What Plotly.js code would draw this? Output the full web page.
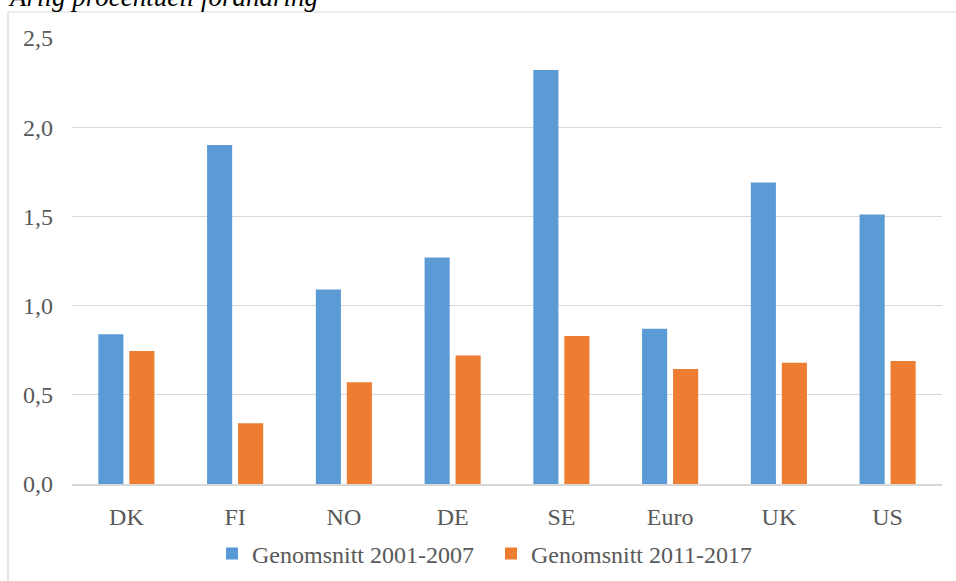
<!DOCTYPE html>
<html>
<head>
<meta charset="utf-8">
<script src="https://cdn.plot.ly/plotly-3.0.1.min.js"></script>
<style>
html,body{margin:0;padding:0;background:#fff;}
#chart{width:956px;height:581px;}
</style>
</head>
<body>
<div id="chart"></div>
<script>
var categories = ["DK", "FI", "NO", "DE", "SE", "Euro", "UK", "US"];
var series1Name = "Genomsnitt 2001-2007";
var series2Name = "Genomsnitt 2011-2017";
var series1 = [0.84, 1.90, 1.09, 1.27, 2.32, 0.87, 1.69, 1.51];
var series2 = [0.745, 0.34, 0.57, 0.72, 0.83, 0.645, 0.68, 0.69];
var yTicks = [0, 0.5, 1.0, 1.5, 2.0, 2.5];
var chartTitle = "Årlig procentuell förändring";

var fontFam = "'Liberation Serif', 'Times New Roman', serif";
var txtCol = "#595959";

var traces = [
  {type: "bar", name: series1Name, x: categories, y: series1,
   marker: {color: "#5b9bd5"}, hoverinfo: "x+y"},
  {type: "bar", name: series2Name, x: categories, y: series2,
   marker: {color: "#ed7d31"}, hoverinfo: "x+y"}
];

var layout = {
  width: 956, height: 581,
  margin: {l: 72, r: 14, t: 38, b: 97},
  paper_bgcolor: "#ffffff",
  plot_bgcolor: "#ffffff",
  separators: ",.",
  font: {family: fontFam, color: txtCol, size: 24},
  barmode: "group",
  bargap: 0.43,
  bargroupgap: 0.19,
  showlegend: true,
  legend: {orientation: "h", xref: "container", yref: "container",
           x: 491 / 956, xanchor: "center", y: 1 - 554 / 581, yanchor: "middle",
           font: {family: fontFam, size: 24, color: txtCol}, itemwidth: 30, entrywidth: 234,
           traceorder: "normal", tracegroupgap: 0},
  xaxis: {
    type: "category",
    showgrid: false, zeroline: false,
    showline: true, linecolor: "#d9d9d9", linewidth: 1.5,
    ticks: "", ticklabelstandoff: 11, automargin: false,
    tickfont: {family: fontFam, size: 24, color: txtCol},
    fixedrange: true
  },
  yaxis: {
    range: [0, 2.5],
    tickvals: yTicks,
    tickformat: ".1f",
    showgrid: true, gridcolor: "#d9d9d9", gridwidth: 1.3,
    zeroline: false, showline: false,
    ticks: "", ticklabelstandoff: 18, automargin: false,
    tickfont: {family: fontFam, size: 24, color: txtCol},
    fixedrange: true
  },
  annotations: [
    {text: "<i>" + chartTitle + "</i>", xref: "paper", yref: "paper",
     x: (6 - 72) / 870, y: (484 - 14) / 446, xanchor: "left", yanchor: "bottom",
     showarrow: false, font: {family: fontFam, size: 27, color: "#000000"}}
  ],
  shapes: [
    {type: "rect", xref: "paper", yref: "paper",
     x0: (8 - 72) / 870, x1: (970 - 72) / 870,
     y0: (484 - 600) / 446, y1: (484 - 12) / 446,
     line: {color: "#d9d9d9", width: 1.2}, fillcolor: "rgba(0,0,0,0)", layer: "below"}
  ]
};

Plotly.newPlot("chart", traces, layout, {displayModeBar: false, staticPlot: true});
</script>
</body>
</html>
